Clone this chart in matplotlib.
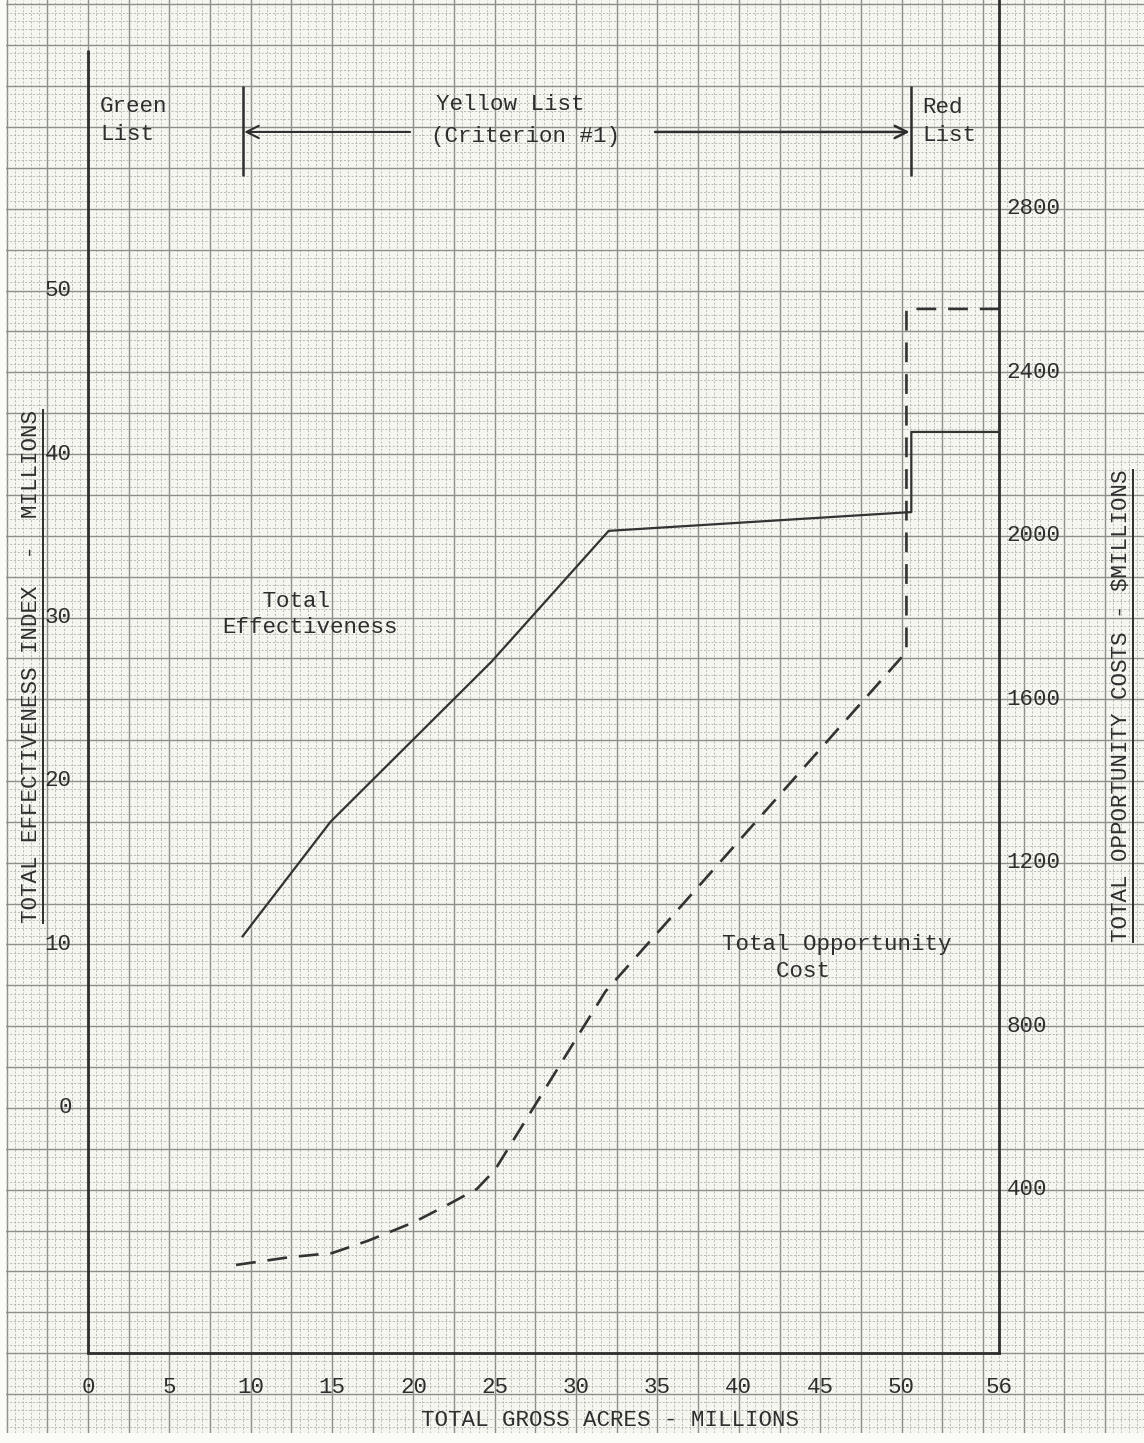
import matplotlib
matplotlib.use("Agg")
import matplotlib.pyplot as plt
from matplotlib.ticker import MultipleLocator
from matplotlib.lines import Line2D
from matplotlib.transforms import IdentityTransform

# ---------------- data ----------------
acres_eff = [9.5, 14.9, 24.8, 32.0, 50.6, 50.6, 56.0]
effectiveness = [10.5, 17.5, 27.3, 35.3, 36.45, 41.35, 41.35]

acres_cost = [9.1, 12.4, 15.0, 17.2, 20.0, 22.1, 23.9, 25.0, 31.8, 50.3, 50.3, 56.0]
opportunity_cost = [216, 235, 245, 275, 320, 363, 402, 448, 885, 1716, 2555, 2555]

x_ticks = [0, 5, 10, 15, 20, 25, 30, 35, 40, 45, 50, 56]
left_ticks = [0, 10, 20, 30, 40, 50]
right_ticks = [400, 800, 1200, 1600, 2000, 2400, 2800]
list_bounds = [9.5, 50.6]

# ---------------- styling ----------------
FONT = ["Liberation Mono", "DejaVu Sans Mono"]
INK = "#2e2e2e"
FS = 16.2

fig = plt.figure(figsize=(11.44, 14.43), dpi=100)
fig.patch.set_facecolor("#fbfbf8")
ax = fig.add_axes([6 / 1144, 10 / 1443, 1 - 6 / 1144, 1 - 10 / 1443])
ax.set_facecolor("#f6f6f1")

X0, X1 = -5.04, 64.9
Y0, Y1 = -19.88, 67.77
ax.set_xlim(X0, X1)
ax.set_ylim(Y0, Y1)

# graph paper
ax.xaxis.set_major_locator(MultipleLocator(2.5))
ax.yaxis.set_major_locator(MultipleLocator(2.5))
ax.xaxis.set_minor_locator(MultipleLocator(0.5))
ax.yaxis.set_minor_locator(MultipleLocator(0.5))
ax.grid(which="major", color="#8e8e8a", lw=1.0)
ax.grid(which="minor", color="#b4b4ae", lw=0.6, linestyle=(0, (2.5, 2)))
ax.set_axisbelow(True)
ax.tick_params(which="both", length=0, labelbottom=False, labelleft=False)
for s in ax.spines.values():
    s.set_visible(False)

# secondary scale for opportunity costs ($M = (left + 15) * 40)
ax2 = ax.twinx()
ax2.set_ylim((Y0 + 15) * 40, (Y1 + 15) * 40)
ax2.tick_params(which="both", length=0, labelright=False)
for s in ax2.spines.values():
    s.set_visible(False)

# chart frame
ax.plot([0, 0], [-15, 64.7], color=INK, lw=2.0, solid_capstyle="butt")
ax.plot([0, 56], [-15, -15], color=INK, lw=2.0)
ax.plot([56, 56], [-15, Y1], color=INK, lw=2.0)

# data lines
ax.plot(acres_eff, effectiveness, color="#333333", lw=1.6)
ax2.plot(acres_cost, opportunity_cost, color="#333333", lw=1.9,
         linestyle=(0, (7.5, 4.5)))

# tick labels
for t in x_ticks:
    ax.text(t, -17.1, str(t), ha="center", va="center", fontsize=FS,
            family=FONT, color=INK)
for t in left_ticks:
    ax.text(-1.0, t, str(t), ha="right", va="center", fontsize=FS,
            family=FONT, color=INK)
for t in right_ticks:
    ax2.text(56.45, t, str(t), ha="left", va="center", fontsize=FS,
             family=FONT, color=INK)

# list boundaries and arrows
ax.vlines(list_bounds, 57.0, 62.5, color=INK, lw=1.8)
ax.annotate("", xy=(list_bounds[0] + 0.1, 59.7), xytext=(19.8, 59.7),
            arrowprops=dict(arrowstyle="->", color=INK, lw=1.5,
                            mutation_scale=22, shrinkA=0, shrinkB=0))
ax.annotate("", xy=(list_bounds[1] - 0.1, 59.7), xytext=(34.85, 59.7),
            arrowprops=dict(arrowstyle="->", color=INK, lw=1.8,
                            mutation_scale=22, shrinkA=0, shrinkB=0))

def txt(x, y, s, **kw):
    return ax.text(x, y, s, fontsize=FS, family=FONT, color=INK,
                   va="center", **kw)

txt(0.74, 61.25, "Green")
txt(0.74, 59.55, "List")
txt(21.4, 61.35, "Yellow List")
txt(21.1, 59.4, "(Criterion #1)")
txt(51.26, 61.2, "Red")
txt(51.26, 59.5, "List")
txt(8.24, 30.95, "   Total")
txt(8.24, 29.36, "Effectiveness")
txt(38.97, 9.97, "Total Opportunity")
txt(38.97, 8.32, "    Cost")

# axis titles
xl = txt(32.08, -19.1, "TOTAL GROSS ACRES - MILLIONS", ha="center")
yl = txt(-3.45, 27.0, "TOTAL EFFECTIVENESS INDEX  -  MILLIONS",
         ha="center", rotation=90)
yr = txt(63.5, 24.6, "TOTAL OPPORTUNITY COSTS - $MILLIONS",
         ha="center", rotation=90)

# underline the rotated axis titles
fig.canvas.draw()
r = fig.canvas.get_renderer()
for t in (yl, yr):
    bb = t.get_window_extent(r)
    xu = bb.x1 + 1
    fig.add_artist(Line2D([xu, xu], [bb.y0, bb.y1], color=INK, lw=1.4,
                          transform=IdentityTransform()))

fig.savefig("out.png", dpi=100, facecolor=fig.get_facecolor())
